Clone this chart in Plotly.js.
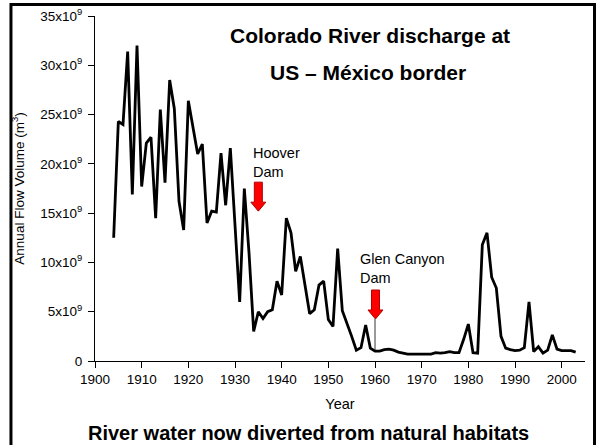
<!DOCTYPE html>
<html>
<head>
<meta charset="utf-8">
<script src="https://cdn.plot.ly/plotly-3.0.1.min.js"></script>
<style>html,body{margin:0;padding:0;background:#fff;}#chart{width:607px;height:445px;}</style>
</head>
<body>
<div id="chart"></div>
<script>
// Years (x) and annual flow volume in units of 10^9 m^3 (y)
const years = [];
for (let y = 1904; y <= 2003; y++) years.push(y);
const flow = [
  12.5, 24.3, 24.0, 31.4, 16.9, 32.0, 17.7, 22.1, 22.7, 14.5,
  25.5, 18.1, 28.5, 25.6, 16.2, 13.3, 26.4, 23.8, 21.0, 22.0,
  14.0, 15.2, 15.1, 21.1, 15.8, 21.6, 13.8, 6.0, 17.5, 11.0,
  3.0, 5.0, 4.3, 5.0, 5.2, 8.1, 6.7, 14.5, 13.0, 9.1,
  10.6, 7.7, 4.8, 5.2, 7.7, 8.1, 4.2, 3.5, 11.4, 5.1,
  3.9, 2.5, 1.1, 1.35, 3.65, 1.3, 1.0, 1.0, 1.15, 1.2,
  1.1, 0.9, 0.8, 0.7, 0.7, 0.7, 0.7, 0.7, 0.7, 0.85,
  0.8, 0.85, 0.95, 0.85, 0.85, 2.2, 3.75, 0.85, 0.8, 11.8,
  13.0, 8.5, 7.4, 2.5, 1.3, 1.15, 1.05, 1.1, 1.35, 6.0,
  0.95, 1.45, 0.8, 1.1, 2.65, 1.2, 1.05, 1.05, 1.05, 0.9
];
const xTicks = [1900, 1910, 1920, 1930, 1940, 1950, 1960, 1970, 1980, 1990, 2000];
const yTicks = [0, 5, 10, 15, 20, 25, 30, 35];
const yTickText = ["0", "5x10<sup>9</sup>", "10x10<sup>9</sup>", "15x10<sup>9</sup>", "20x10<sup>9</sup>",
                   "25x10<sup>9</sup>", "30x10<sup>9</sup>", "35x10<sup>9</sup>"];
const titleLine1 = "Colorado River discharge at";
const titleLine2 = "US – México border";
const footer = "River water now diverted from natural habitats";
const dams = [
  {name: "Hoover<br>Dam", year: 1935, tipY: 15.2, labelX: 1933.5, labelY: 18.2},
  {name: "Glen Canyon<br>Dam", year: 1960.1, tipY: 4.26, labelX: 1956.3, labelY: 7.4}
];

const FONT = "Arial, 'Liberation Sans', sans-serif";
const arrowPath = "M -4,29 L 4,29 L 4,9 L 7.5,9 L 0,0 L -7.5,9 L -4,9 Z";

const shapes = [
  {type: "rect", xref: "paper", yref: "paper", x0: -0.1715, x1: 1.0194, y0: -0.27, y1: 1.0333,
   line: {color: "#000", width: 3}, fillcolor: "rgba(0,0,0,0)", layer: "above"}
];
dams.forEach(d => {
  shapes.push({type: "path", xref: "x", yref: "y", xsizemode: "pixel", ysizemode: "pixel",
    xanchor: d.year, yanchor: d.tipY, path: arrowPath,
    fillcolor: "#ff0000", line: {color: "#b00000", width: 1}});
});
// thin leader line for Glen Canyon Dam
shapes.push({type: "line", xref: "x", yref: "y", x0: dams[1].year - 0.1, x1: dams[1].year - 0.1,
  y0: dams[1].tipY, y1: 1.05, line: {color: "#000", width: 0.8}});

const annotations = [
  {text: "<b>" + titleLine1 + "</b>", xref: "paper", yref: "paper", x: 0.561, y: 0.943,
   xanchor: "center", yanchor: "middle",
   showarrow: false, font: {family: FONT, size: 21, color: "#000"}},
  {text: "<b>" + titleLine2 + "</b>", xref: "paper", yref: "paper", x: 0.557, y: 0.837,
   xanchor: "center", yanchor: "middle",
   showarrow: false, font: {family: FONT, size: 21, color: "#000"}},
  {text: "<b>" + footer + "</b>", xref: "paper", yref: "paper", x: 0.435, y: -0.208,
   xanchor: "center", yanchor: "middle",
   showarrow: false, font: {family: FONT, size: 20, color: "#000"}},
  {text: dams[0].name, xref: "x", yref: "y", x: dams[0].labelX, y: dams[0].labelY, xanchor: "left", yanchor: "bottom",
   align: "left", showarrow: false, font: {family: FONT, size: 14.5, color: "#000"}},
  {text: dams[1].name, xref: "x", yref: "y", x: dams[1].labelX, y: dams[1].labelY, xanchor: "left", yanchor: "bottom",
   align: "left", showarrow: false, font: {family: FONT, size: 14.5, color: "#000"}}
];

const trace = {
  x: years, y: flow, type: "scatter", mode: "lines",
  line: {color: "#000", width: 2.8}, hoverinfo: "skip"
};

const layout = {
  width: 607, height: 445,
  margin: {l: 95, r: 22, t: 16, b: 84},
  paper_bgcolor: "#fff", plot_bgcolor: "#fff",
  font: {family: FONT, color: "#000", size: 13.5},
  showlegend: false,
  xaxis: {
    range: [1900, 2005], tickvals: xTicks, ticktext: xTicks.map(String),
    showgrid: false, zeroline: false, showline: true, linecolor: "#000", linewidth: 1,
    ticks: "outside", ticklen: 6, tickcolor: "#000", tickwidth: 1,
    tickfont: {family: FONT, size: 13.5, color: "#000"},
    title: {text: "Year", font: {family: FONT, size: 14.5, color: "#000"}, standoff: 12}
  },
  yaxis: {
    range: [0, 35], tickvals: yTicks, ticktext: yTickText,
    showgrid: false, zeroline: false, showline: true, linecolor: "#000", linewidth: 1,
    ticks: "outside", ticklen: 6, tickcolor: "#000", tickwidth: 1, ticklabelstandoff: 3,
    tickfont: {family: FONT, size: 13.5, color: "#000"},
    title: {text: "Annual Flow Volume (m<sup>3</sup>)", font: {family: FONT, size: 13.5, color: "#000"}, standoff: 12}
  },
  shapes: shapes,
  annotations: annotations
};

Plotly.newPlot("chart", [trace], layout, {staticPlot: true, displayModeBar: false});
</script>
</body>
</html>
